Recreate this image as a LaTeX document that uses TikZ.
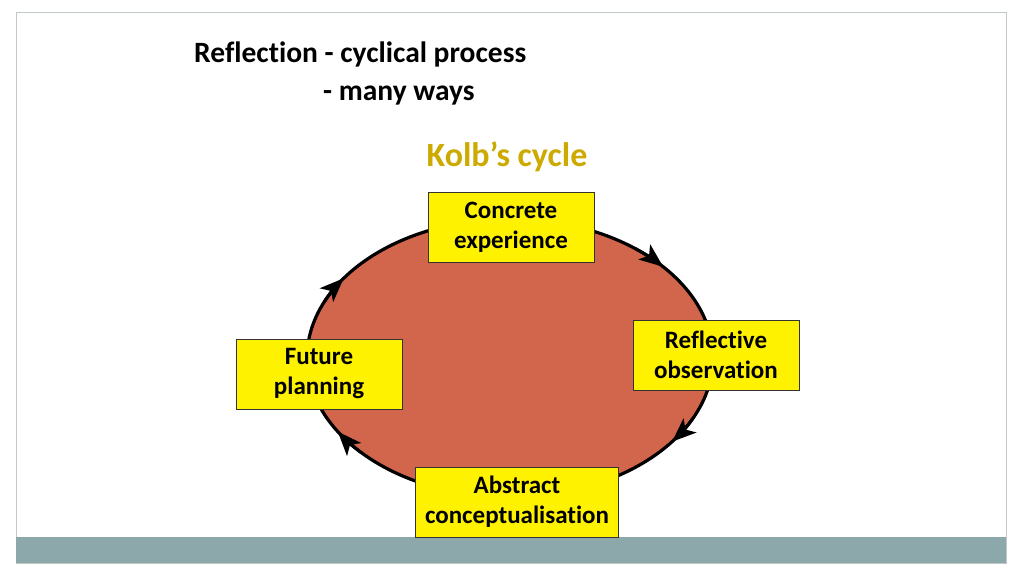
\documentclass[tikz,border=0pt]{standalone}
\usepackage{fontspec}
\setmainfont[Ligatures = NoCommon]{Carlito}
\usepackage{tikz}
\usetikzlibrary{arrows.meta}
\definecolor{cyclered}{RGB}{210,102,76}
\definecolor{kolbgold}{RGB}{204,170,0}
\definecolor{barteal}{RGB}{140,168,170}
\definecolor{framegray}{RGB}{192,200,200}

\begin{document}
\begin{tikzpicture}[x = 1pt, y = 1pt,
    stage/.style = {rectangle, draw = black!80, line width = 0.8pt, fill = yellow,
        minimum height = 70pt, align = center, inner sep = 2pt,
        font = \fontsize{25}{30}\selectfont\bfseries},
    heading/.style = {anchor = west, inner sep = 0pt, font = \fontsize{29.5}{34}\selectfont\bfseries},
    turn/.style = {line width = 3pt, -{Stealth[length = 24pt, width = 19pt, inset = 6pt]}}]
\useasboundingbox (0,0) rectangle (1024,576);
\fill[white] (0,0) rectangle (1024,576);
\draw[framegray, line width = 1pt] (16,13) rectangle (1006,563);
\fill[barteal] (16,13) rectangle (1006,39);

% titles
\node[heading] (t1) at (194,522) {Reflection - cyclical process};
\node[heading] (t2) at (323,480) {- many ways};
\node[kolbgold, font = \fontsize{34}{40}\selectfont\bfseries] (kolb) at (507,419) {Kolb’s cycle};

% the cycle
\draw[fill = cyclered, line width = 3.2pt] (510,218) ellipse [x radius = 203, y radius = 139];
\draw[turn] (510,218) ++(156:203 and 139) arc[start angle = 156, end angle = 145, x radius = 203, y radius = 139];
\draw[turn] (510,218) ++(52:203 and 139) arc[start angle = 52, end angle = 41, x radius = 203, y radius = 139];
\draw[turn] (510,218) ++(-26:203 and 139) arc[start angle = -26, end angle = -37, x radius = 203, y radius = 139];
\draw[turn] (510,218) ++(-137:203 and 139) arc[start angle = -137, end angle = -148, x radius = 203, y radius = 139];

% stages
\node[stage, minimum width = 166pt] (ce) at (511,349) {Concrete\\experience};
\node[stage, minimum width = 166pt] (ro) at (716,221) {Reflective\\observation};
\node[stage, minimum width = 203pt] (ac) at (517,74) {Abstract\\conceptualisation};
\node[stage, minimum width = 166pt] (fp) at (319,202) {Future\\planning};
\end{tikzpicture}
\end{document}
